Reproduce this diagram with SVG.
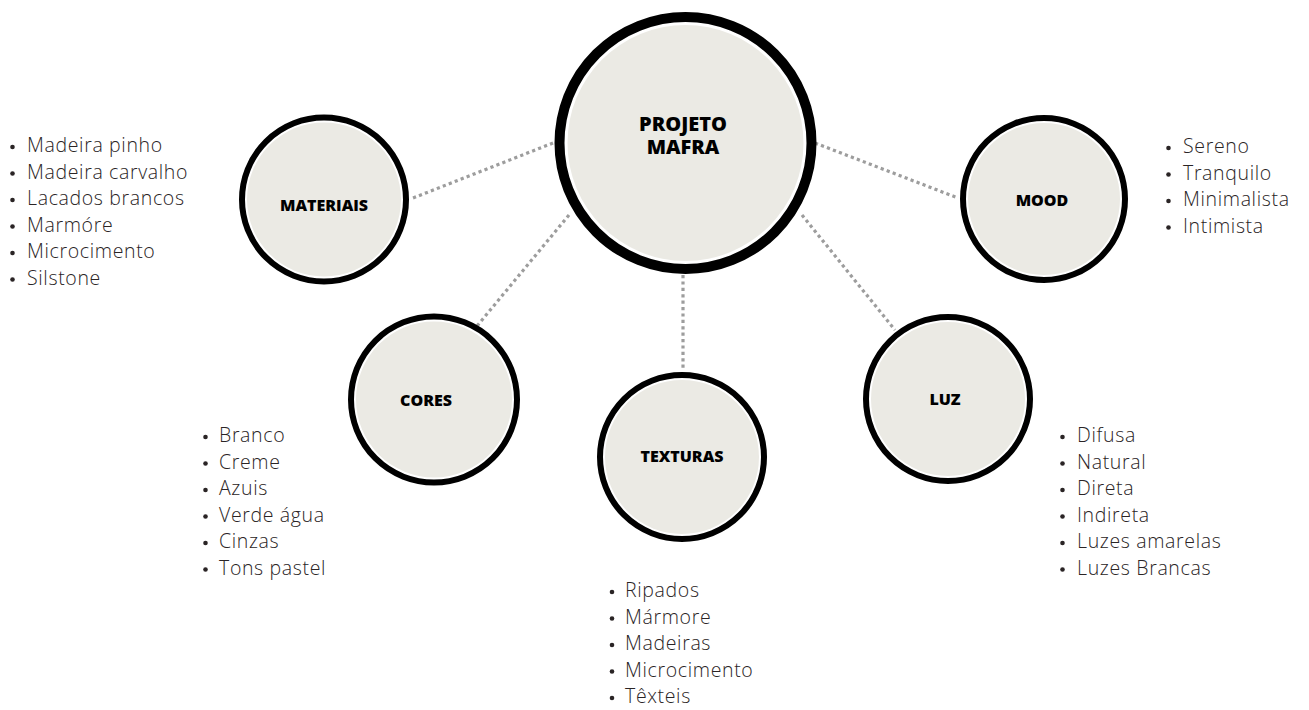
<svg xmlns="http://www.w3.org/2000/svg" width="1309" height="710" viewBox="0 0 1309 710">
<style>
.ring{fill:#ffffff;stroke:#000000}
.fill{fill:#EBEAE4}
.lbl{font-family:"Open Sans","Liberation Sans",sans-serif;font-weight:800;fill:#000;text-anchor:middle}
.item{font-family:"Open Sans","Liberation Sans",sans-serif;font-weight:300;font-size:19.5px;letter-spacing:0.65px;fill:#2a2425}
.dot{fill:#2a2425}
.con{stroke:#9d9d9d;stroke-width:3.2;stroke-dasharray:3.2 3.2;fill:none}
</style>
<rect width="1309" height="710" fill="#ffffff"/>
<g id="connectors">
<line class="con" x1="553" y1="143" x2="413" y2="198"/>
<line class="con" x1="569" y1="215" x2="477" y2="326"/>
<line class="con" x1="683" y1="275" x2="683" y2="369"/>
<line class="con" x1="802" y1="215" x2="895" y2="330"/>
<line class="con" x1="815" y1="143" x2="958" y2="198"/>
</g>
<g id="center">
<circle class="ring" cx="685.5" cy="143" r="126" stroke-width="10"/>
<circle class="fill" cx="685.5" cy="143" r="118"/>
<text class="lbl" font-size="20"><tspan x="683" y="131">PROJETO</tspan><tspan x="683" y="153.5">MAFRA</tspan></text>
</g>
<g id="materiais">
<circle class="ring" cx="324" cy="199.5" r="82" stroke-width="6"/>
<circle class="fill" cx="324" cy="199.5" r="77"/>
<text class="lbl" font-size="16" x="324" y="210.5">MATERIAIS</text>
<g>
<circle class="dot" cx="12.5" cy="147" r="2.3"/><text class="item" x="27" y="152">Madeira pinho</text>
<circle class="dot" cx="12.5" cy="173.5" r="2.3"/><text class="item" x="27" y="178.5">Madeira carvalho</text>
<circle class="dot" cx="12.5" cy="200" r="2.3"/><text class="item" x="27" y="205">Lacados brancos</text>
<circle class="dot" cx="12.5" cy="226.5" r="2.3"/><text class="item" x="27" y="231.5">Marmóre</text>
<circle class="dot" cx="12.5" cy="253" r="2.3"/><text class="item" x="27" y="258">Microcimento</text>
<circle class="dot" cx="12.5" cy="279.5" r="2.3"/><text class="item" x="27" y="284.5">Silstone</text>
</g>
</g>
<g id="cores">
<circle class="ring" cx="434" cy="399.5" r="83" stroke-width="6"/>
<circle class="fill" cx="434" cy="399.5" r="78"/>
<text class="lbl" font-size="16" x="426" y="406">CORES</text>
<g>
<circle class="dot" cx="205.5" cy="437" r="2.3"/><text class="item" x="219" y="442">Branco</text>
<circle class="dot" cx="205.5" cy="463.5" r="2.3"/><text class="item" x="219" y="468.5">Creme</text>
<circle class="dot" cx="205.5" cy="490" r="2.3"/><text class="item" x="219" y="495">Azuis</text>
<circle class="dot" cx="205.5" cy="516.5" r="2.3"/><text class="item" x="219" y="521.5">Verde água</text>
<circle class="dot" cx="205.5" cy="543" r="2.3"/><text class="item" x="219" y="548">Cinzas</text>
<circle class="dot" cx="205.5" cy="569.5" r="2.3"/><text class="item" x="219" y="574.5">Tons pastel</text>
</g>
</g>
<g id="texturas">
<circle class="ring" cx="682" cy="457" r="82" stroke-width="6"/>
<circle class="fill" cx="682" cy="457" r="77"/>
<text class="lbl" font-size="16" x="682" y="462">TEXTURAS</text>
<g>
<circle class="dot" cx="612" cy="592" r="2.3"/><text class="item" x="625" y="597">Ripados</text>
<circle class="dot" cx="612" cy="618.5" r="2.3"/><text class="item" x="625" y="623.5">Mármore</text>
<circle class="dot" cx="612" cy="645" r="2.3"/><text class="item" x="625" y="650">Madeiras</text>
<circle class="dot" cx="612" cy="671.5" r="2.3"/><text class="item" x="625" y="676.5">Microcimento</text>
<circle class="dot" cx="612" cy="698" r="2.3"/><text class="item" x="625" y="703">Têxteis</text>
</g>
</g>
<g id="luz">
<circle class="ring" cx="948" cy="399" r="82" stroke-width="6"/>
<circle class="fill" cx="948" cy="399" r="77"/>
<text class="lbl" font-size="16" x="945" y="405">LUZ</text>
<g>
<circle class="dot" cx="1062.5" cy="437" r="2.3"/><text class="item" x="1077" y="442">Difusa</text>
<circle class="dot" cx="1062.5" cy="463.5" r="2.3"/><text class="item" x="1077" y="468.5">Natural</text>
<circle class="dot" cx="1062.5" cy="490" r="2.3"/><text class="item" x="1077" y="495">Direta</text>
<circle class="dot" cx="1062.5" cy="516.5" r="2.3"/><text class="item" x="1077" y="521.5">Indireta</text>
<circle class="dot" cx="1062.5" cy="543" r="2.3"/><text class="item" x="1077" y="548">Luzes amarelas</text>
<circle class="dot" cx="1062.5" cy="569.5" r="2.3"/><text class="item" x="1077" y="574.5">Luzes Brancas</text>
</g>
</g>
<g id="mood">
<circle class="ring" cx="1044" cy="199" r="81" stroke-width="6"/>
<circle class="fill" cx="1044" cy="199" r="76"/>
<text class="lbl" font-size="16" x="1042" y="206">MOOD</text>
<g>
<circle class="dot" cx="1168.5" cy="148" r="2.3"/><text class="item" x="1183" y="153">Sereno</text>
<circle class="dot" cx="1168.5" cy="174.5" r="2.3"/><text class="item" x="1183" y="179.5">Tranquilo</text>
<circle class="dot" cx="1168.5" cy="201" r="2.3"/><text class="item" x="1183" y="206">Minimalista</text>
<circle class="dot" cx="1168.5" cy="227.5" r="2.3"/><text class="item" x="1183" y="232.5">Intimista</text>
</g>
</g>
</svg>
